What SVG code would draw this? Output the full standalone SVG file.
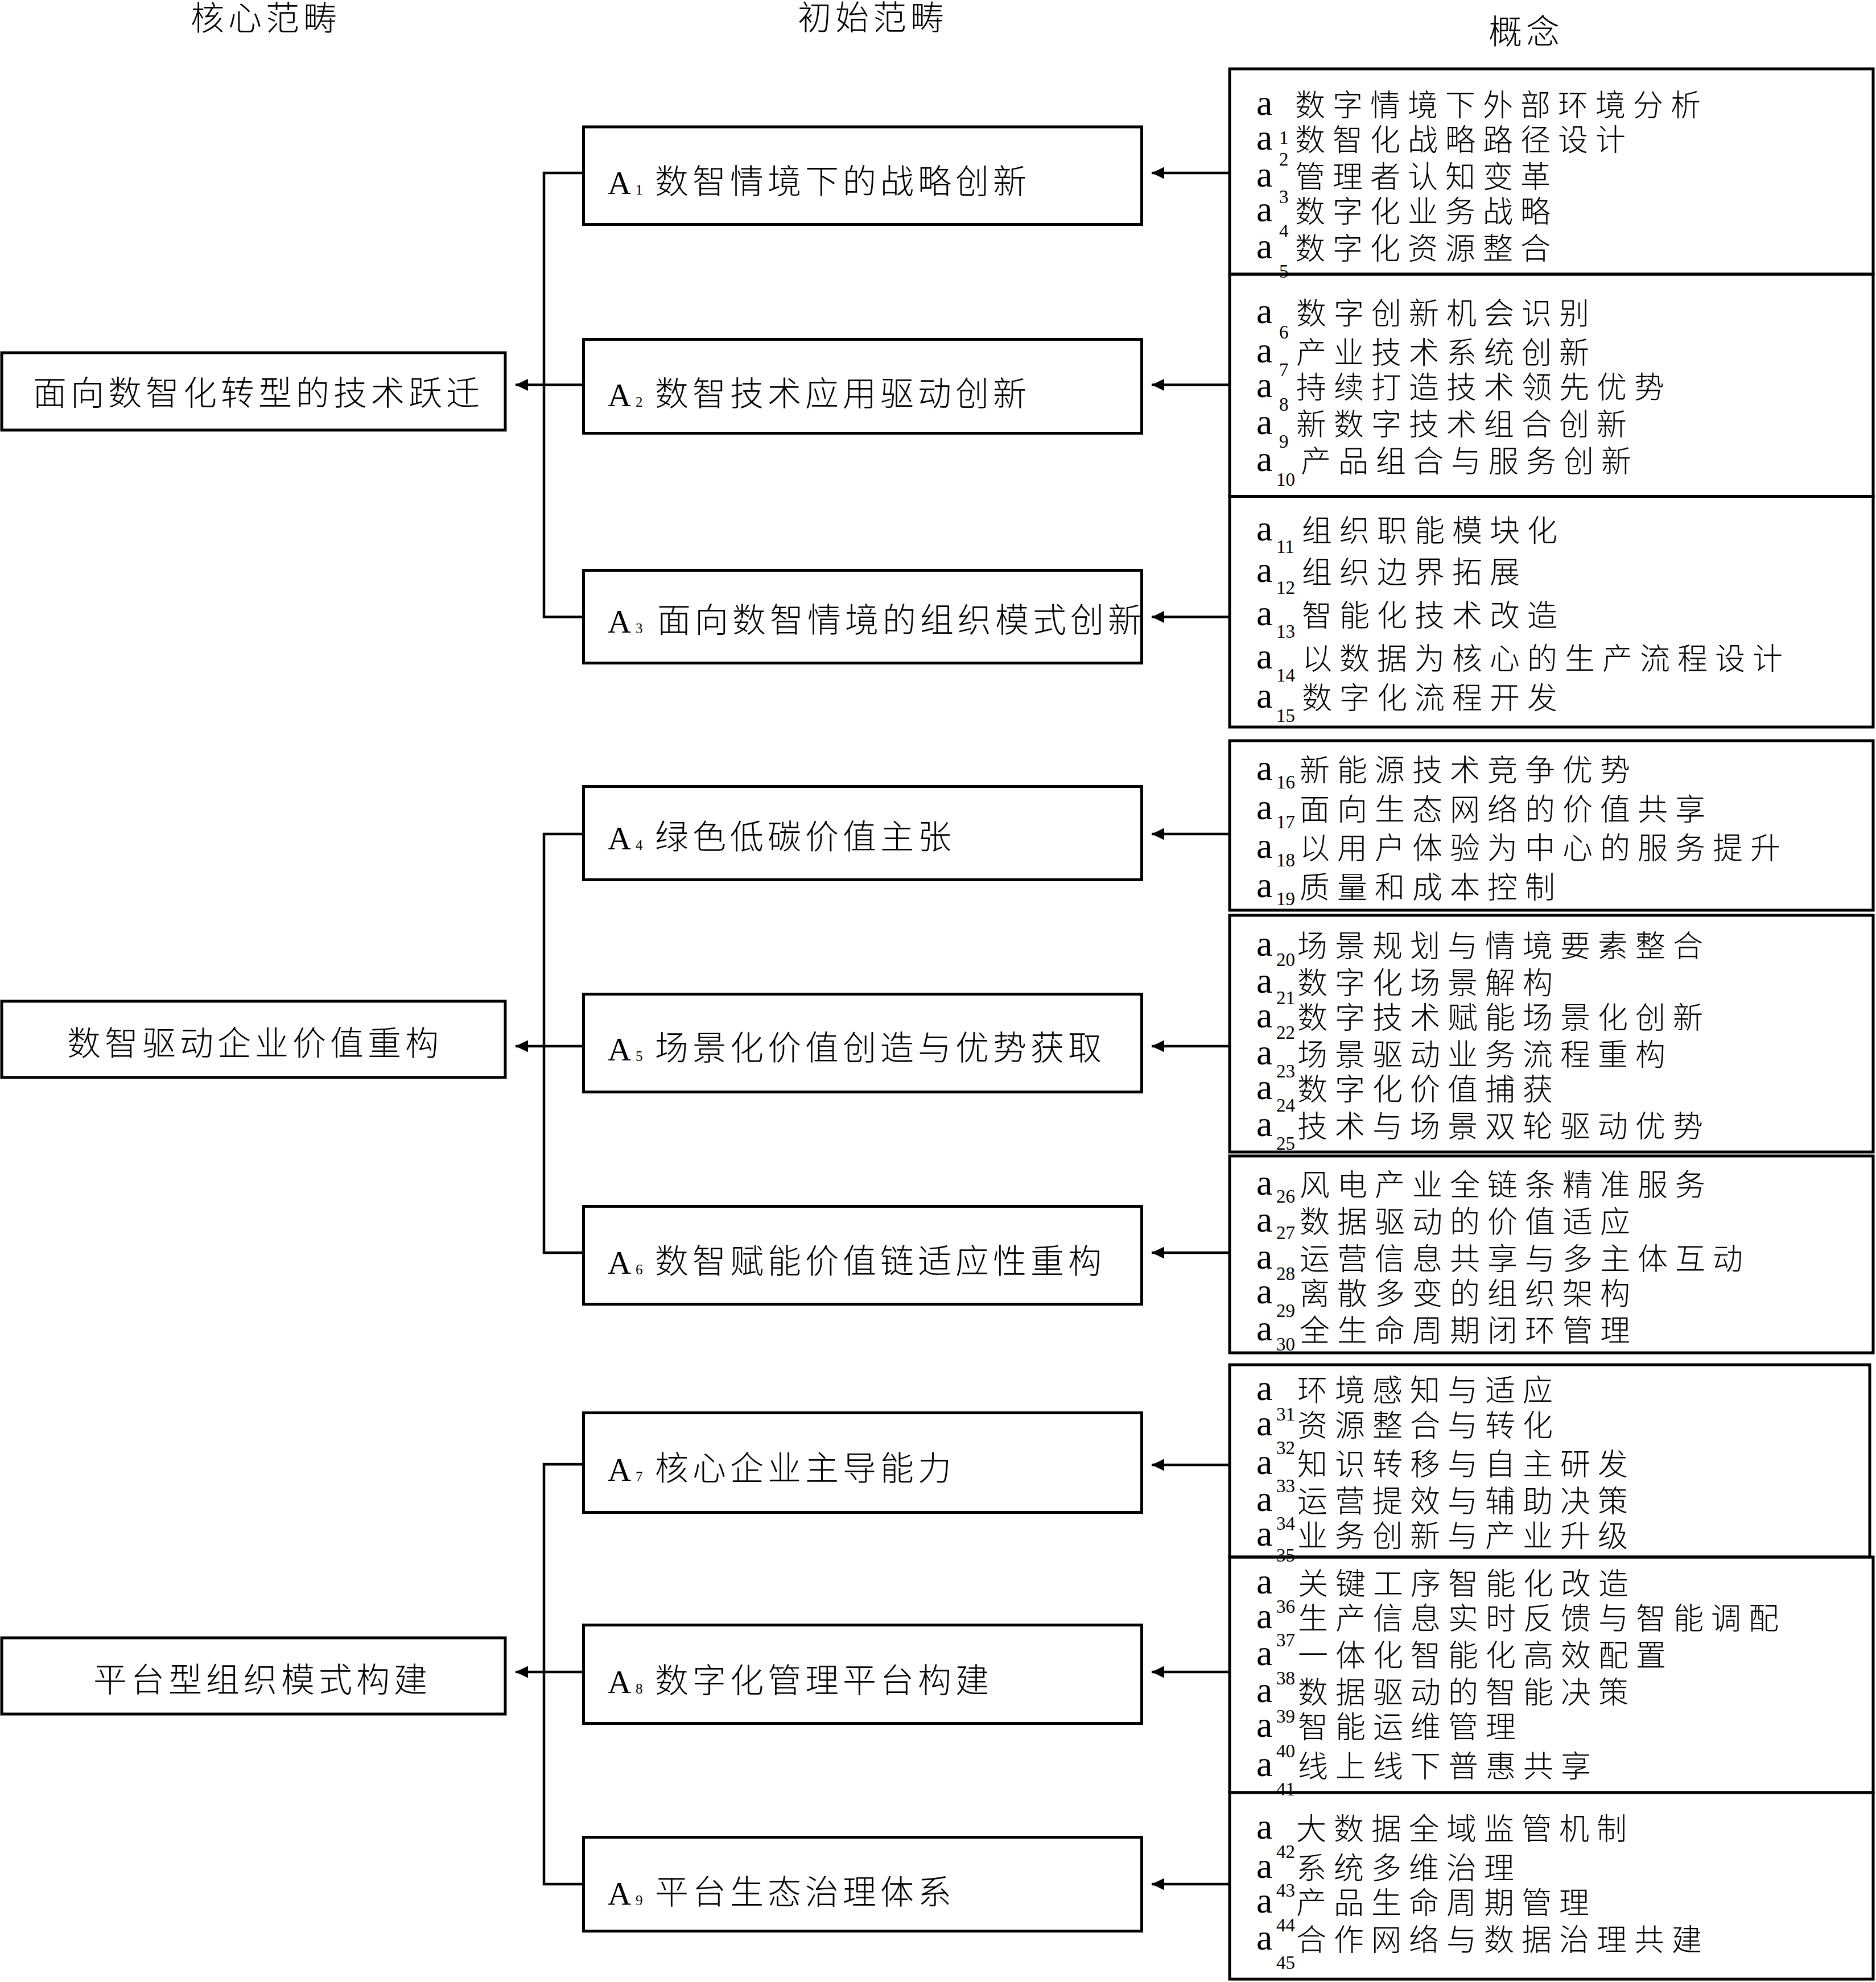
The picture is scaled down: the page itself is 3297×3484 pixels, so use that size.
<svg xmlns="http://www.w3.org/2000/svg" width="3297" height="3484" viewBox="0 0 3297 3484">
<style>
.box{fill:none;stroke:#000;stroke-width:5}
.conn{fill:none;stroke:#000;stroke-width:4.5}
.hz{font-family:"Noto Sans CJK SC","Noto Sans CJK TC",sans-serif;font-weight:300;fill:#000}
.m{font-size:59px;letter-spacing:7px}
.c{font-size:53px;letter-spacing:13px}
.lat{font-family:"Liberation Serif",serif;fill:#000}
.a{font-size:64px}
.s{font-size:33px}
.A{font-size:57px}
.As{font-size:25px}
</style>
<defs>
<marker id="ah" markerUnits="userSpaceOnUse" markerWidth="23" markerHeight="22" viewBox="0 -11 23 22" refX="22" refY="0" orient="auto"><path d="M0,-10.5 L22,0 L0,10.5 Z" fill="#000"/></marker>
</defs>
<rect x="0" y="0" width="3297" height="3484" fill="#fff"/>

<g id="headers">
<text class="hz m" x="335" y="53">核心范畴</text>
<text class="hz m" x="1402" y="52">初始范畴</text>
<text class="hz m" x="2616" y="77">概念</text>
</g>

<g id="core1"><rect class="box" x="3" y="620" width="885" height="136"/><text class="hz m" x="58" y="712">面向数智化转型的技术跃迁</text></g>
<g id="core2"><rect class="box" x="3" y="1760" width="885" height="134"/><text class="hz m" x="118" y="1855">数智驱动企业价值重构</text></g>
<g id="core3"><rect class="box" x="3" y="2879" width="885" height="134"/><text class="hz m" x="164" y="2974">平台型组织模式构建</text></g>

<g id="A1"><rect class="box" x="1025.5" y="223" width="981" height="171.5"/><text class="lat A" x="1068" y="341">A</text><text class="lat As" x="1117" y="342">1</text><text class="hz m" x="1151" y="340">数智情境下的战略创新</text></g>
<g id="A2"><rect class="box" x="1025.5" y="596.5" width="981" height="165"/><text class="lat A" x="1068" y="714">A</text><text class="lat As" x="1117" y="715">2</text><text class="hz m" x="1151" y="713">数智技术应用驱动创新</text></g>
<g id="A3"><rect class="box" x="1025.5" y="1002.5" width="981" height="163"/><text class="lat A" x="1068" y="1112">A</text><text class="lat As" x="1117" y="1113">3</text><text class="hz m" x="1155" y="1111">面向数智情境的组织模式创新</text></g>
<g id="A4"><rect class="box" x="1025.5" y="1382.5" width="981" height="164"/><text class="lat A" x="1068" y="1493">A</text><text class="lat As" x="1117" y="1494">4</text><text class="hz m" x="1151" y="1492">绿色低碳价值主张</text></g>
<g id="A5"><rect class="box" x="1025.5" y="1747.5" width="981" height="172"/><text class="lat A" x="1068" y="1864">A</text><text class="lat As" x="1117" y="1865">5</text><text class="hz m" x="1151" y="1863">场景化价值创造与优势获取</text></g>
<g id="A6"><rect class="box" x="1025.5" y="2120.5" width="981" height="172"/><text class="lat A" x="1068" y="2239">A</text><text class="lat As" x="1117" y="2240">6</text><text class="hz m" x="1151" y="2238">数智赋能价值链适应性重构</text></g>
<g id="A7"><rect class="box" x="1025.5" y="2483.5" width="981" height="175"/><text class="lat A" x="1068" y="2603">A</text><text class="lat As" x="1117" y="2604">7</text><text class="hz m" x="1151" y="2602">核心企业主导能力</text></g>
<g id="A8"><rect class="box" x="1025.5" y="2856.5" width="981" height="173"/><text class="lat A" x="1068" y="2976">A</text><text class="lat As" x="1117" y="2977">8</text><text class="hz m" x="1151" y="2975">数字化管理平台构建</text></g>
<g id="A9"><rect class="box" x="1025.5" y="3229.5" width="981" height="165"/><text class="lat A" x="1068" y="3348">A</text><text class="lat As" x="1117" y="3349">9</text><text class="hz m" x="1151" y="3347">平台生态治理体系</text></g>

<g id="C1">
<text class="lat a" x="2208" y="202">a</text><text class="lat s" x="2248" y="253">1</text><text class="hz c" x="2276" y="204">数字情境下外部环境分析</text>
<text class="lat a" x="2208" y="263">a</text><text class="lat s" x="2248" y="291">2</text><text class="hz c" x="2276" y="265">数智化战略路径设计</text>
<text class="lat a" x="2208" y="328">a</text><text class="lat s" x="2248" y="357">3</text><text class="hz c" x="2276" y="330">管理者认知变革</text>
<text class="lat a" x="2208" y="389">a</text><text class="lat s" x="2248" y="417">4</text><text class="hz c" x="2276" y="391">数字化业务战略</text>
<text class="lat a" x="2208" y="454">a</text><text class="lat s" x="2248" y="488">5</text><text class="hz c" x="2276" y="456">数字化资源整合</text>
<rect class="box" x="2161" y="121" width="1131" height="361"/>
</g>
<g id="C2">
<text class="lat a" x="2208" y="568">a</text><text class="lat s" x="2248" y="595">6</text><text class="hz c" x="2278" y="570">数字创新机会识别</text>
<text class="lat a" x="2208" y="637">a</text><text class="lat s" x="2248" y="661">7</text><text class="hz c" x="2278" y="639">产业技术系统创新</text>
<text class="lat a" x="2208" y="698">a</text><text class="lat s" x="2248" y="722">8</text><text class="hz c" x="2278" y="700">持续打造技术领先优势</text>
<text class="lat a" x="2208" y="763">a</text><text class="lat s" x="2248" y="787">9</text><text class="hz c" x="2278" y="765">新数字技术组合创新</text>
<text class="lat a" x="2208" y="828">a</text><text class="lat s" x="2243" y="854">10</text><text class="hz c" x="2286" y="830">产品组合与服务创新</text>
<rect class="box" x="2161" y="482" width="1131" height="390.5"/>
</g>
<g id="C3">
<text class="lat a" x="2208" y="950">a</text><text class="lat s" x="2243" y="972">11</text><text class="hz c" x="2288" y="952">组织职能模块化</text>
<text class="lat a" x="2208" y="1023">a</text><text class="lat s" x="2243" y="1044">12</text><text class="hz c" x="2288" y="1025">组织边界拓展</text>
<text class="lat a" x="2208" y="1099">a</text><text class="lat s" x="2243" y="1121">13</text><text class="hz c" x="2288" y="1101">智能化技术改造</text>
<text class="lat a" x="2208" y="1175">a</text><text class="lat s" x="2243" y="1198">14</text><text class="hz c" x="2288" y="1177">以数据为核心的生产流程设计</text>
<text class="lat a" x="2208" y="1244">a</text><text class="lat s" x="2243" y="1269">15</text><text class="hz c" x="2288" y="1246">数字化流程开发</text>
<rect class="box" x="2161" y="872.5" width="1131" height="405.5"/>
</g>
<g id="C4">
<text class="lat a" x="2208" y="1371">a</text><text class="lat s" x="2243" y="1386">16</text><text class="hz c" x="2284" y="1373">新能源技术竞争优势</text>
<text class="lat a" x="2208" y="1440">a</text><text class="lat s" x="2243" y="1456">17</text><text class="hz c" x="2284" y="1442">面向生态网络的价值共享</text>
<text class="lat a" x="2208" y="1508">a</text><text class="lat s" x="2243" y="1523">18</text><text class="hz c" x="2284" y="1510">以用户体验为中心的服务提升</text>
<text class="lat a" x="2208" y="1577">a</text><text class="lat s" x="2243" y="1591">19</text><text class="hz c" x="2284" y="1579">质量和成本控制</text>
<rect class="box" x="2161" y="1302" width="1131" height="298"/>
</g>
<g id="C5">
<text class="lat a" x="2208" y="1680">a</text><text class="lat s" x="2243" y="1698">20</text><text class="hz c" x="2280" y="1682">场景规划与情境要素整合</text>
<text class="lat a" x="2208" y="1745">a</text><text class="lat s" x="2243" y="1765">21</text><text class="hz c" x="2280" y="1747">数字化场景解构</text>
<text class="lat a" x="2208" y="1806">a</text><text class="lat s" x="2243" y="1826">22</text><text class="hz c" x="2280" y="1808">数字技术赋能场景化创新</text>
<text class="lat a" x="2208" y="1871">a</text><text class="lat s" x="2243" y="1894">23</text><text class="hz c" x="2280" y="1873">场景驱动业务流程重构</text>
<text class="lat a" x="2208" y="1932">a</text><text class="lat s" x="2243" y="1954">24</text><text class="hz c" x="2280" y="1934">数字化价值捕获</text>
<text class="lat a" x="2208" y="1997">a</text><text class="lat s" x="2243" y="2021">25</text><text class="hz c" x="2280" y="1999">技术与场景双轮驱动优势</text>
<rect class="box" x="2161" y="1609" width="1131" height="416"/>
</g>
<g id="C6">
<text class="lat a" x="2208" y="2100">a</text><text class="lat s" x="2243" y="2114">26</text><text class="hz c" x="2284" y="2102">风电产业全链条精准服务</text>
<text class="lat a" x="2208" y="2165">a</text><text class="lat s" x="2243" y="2178">27</text><text class="hz c" x="2284" y="2167">数据驱动的价值适应</text>
<text class="lat a" x="2208" y="2230">a</text><text class="lat s" x="2243" y="2250">28</text><text class="hz c" x="2284" y="2232">运营信息共享与多主体互动</text>
<text class="lat a" x="2208" y="2291">a</text><text class="lat s" x="2243" y="2315">29</text><text class="hz c" x="2284" y="2293">离散多变的组织架构</text>
<text class="lat a" x="2208" y="2356">a</text><text class="lat s" x="2243" y="2374">30</text><text class="hz c" x="2284" y="2358">全生命周期闭环管理</text>
<rect class="box" x="2161" y="2032" width="1131" height="346"/>
</g>
<g id="C7">
<text class="lat a" x="2208" y="2461">a</text><text class="lat s" x="2243" y="2497">31</text><text class="hz c" x="2280" y="2463">环境感知与适应</text>
<text class="lat a" x="2208" y="2523">a</text><text class="lat s" x="2243" y="2556">32</text><text class="hz c" x="2280" y="2525">资源整合与转化</text>
<text class="lat a" x="2208" y="2591">a</text><text class="lat s" x="2243" y="2623">33</text><text class="hz c" x="2280" y="2593">知识转移与自主研发</text>
<text class="lat a" x="2208" y="2656">a</text><text class="lat s" x="2243" y="2689">34</text><text class="hz c" x="2280" y="2658">运营提效与辅助决策</text>
<text class="lat a" x="2208" y="2717">a</text><text class="lat s" x="2243" y="2745">35</text><text class="hz c" x="2280" y="2719">业务创新与产业升级</text>
<rect class="box" x="2161" y="2399" width="1125" height="338"/>
</g>
<g id="C8">
<text class="lat a" x="2208" y="2801">a</text><text class="lat s" x="2243" y="2835">36</text><text class="hz c" x="2281" y="2803">关键工序智能化改造</text>
<text class="lat a" x="2208" y="2862">a</text><text class="lat s" x="2243" y="2894">37</text><text class="hz c" x="2281" y="2864">生产信息实时反馈与智能调配</text>
<text class="lat a" x="2208" y="2927">a</text><text class="lat s" x="2243" y="2961">38</text><text class="hz c" x="2281" y="2929">一体化智能化高效配置</text>
<text class="lat a" x="2208" y="2992">a</text><text class="lat s" x="2243" y="3028">39</text><text class="hz c" x="2281" y="2994">数据驱动的智能决策</text>
<text class="lat a" x="2208" y="3053">a</text><text class="lat s" x="2243" y="3089">40</text><text class="hz c" x="2281" y="3055">智能运维管理</text>
<text class="lat a" x="2208" y="3122">a</text><text class="lat s" x="2243" y="3156">41</text><text class="hz c" x="2281" y="3124">线上线下普惠共享</text>
<rect class="box" x="2161" y="2737" width="1131" height="414"/>
</g>
<g id="C9">
<text class="lat a" x="2208" y="3232">a</text><text class="lat s" x="2243" y="3266">42</text><text class="hz c" x="2278" y="3234">大数据全域监管机制</text>
<text class="lat a" x="2208" y="3301">a</text><text class="lat s" x="2243" y="3334">43</text><text class="hz c" x="2278" y="3303">系统多维治理</text>
<text class="lat a" x="2208" y="3362">a</text><text class="lat s" x="2243" y="3395">44</text><text class="hz c" x="2278" y="3364">产品生命周期管理</text>
<text class="lat a" x="2208" y="3427">a</text><text class="lat s" x="2243" y="3461">45</text><text class="hz c" x="2278" y="3429">合作网络与数据治理共建</text>
<rect class="box" x="2161" y="3151" width="1131" height="328"/>
</g>

<g id="connectors">
<path class="conn" d="M1023,304 H956 V1084.5 H1023"/>
<path class="conn" d="M1023,1466 H956 V2202 H1023"/>
<path class="conn" d="M1023,2574 H956 V3312 H1023"/>
<path class="conn" d="M1023,676.5 H906" marker-end="url(#ah)"/>
<path class="conn" d="M1023,1839 H906" marker-end="url(#ah)"/>
<path class="conn" d="M1023,2939 H906" marker-end="url(#ah)"/>
<path class="conn" d="M2160,304 H2024" marker-end="url(#ah)"/>
<path class="conn" d="M2160,676.5 H2024" marker-end="url(#ah)"/>
<path class="conn" d="M2160,1084.5 H2024" marker-end="url(#ah)"/>
<path class="conn" d="M2160,1466 H2024" marker-end="url(#ah)"/>
<path class="conn" d="M2160,1839 H2024" marker-end="url(#ah)"/>
<path class="conn" d="M2160,2202 H2024" marker-end="url(#ah)"/>
<path class="conn" d="M2160,2575 H2024" marker-end="url(#ah)"/>
<path class="conn" d="M2160,2939 H2024" marker-end="url(#ah)"/>
<path class="conn" d="M2160,3312 H2024" marker-end="url(#ah)"/>
</g>
</svg>
